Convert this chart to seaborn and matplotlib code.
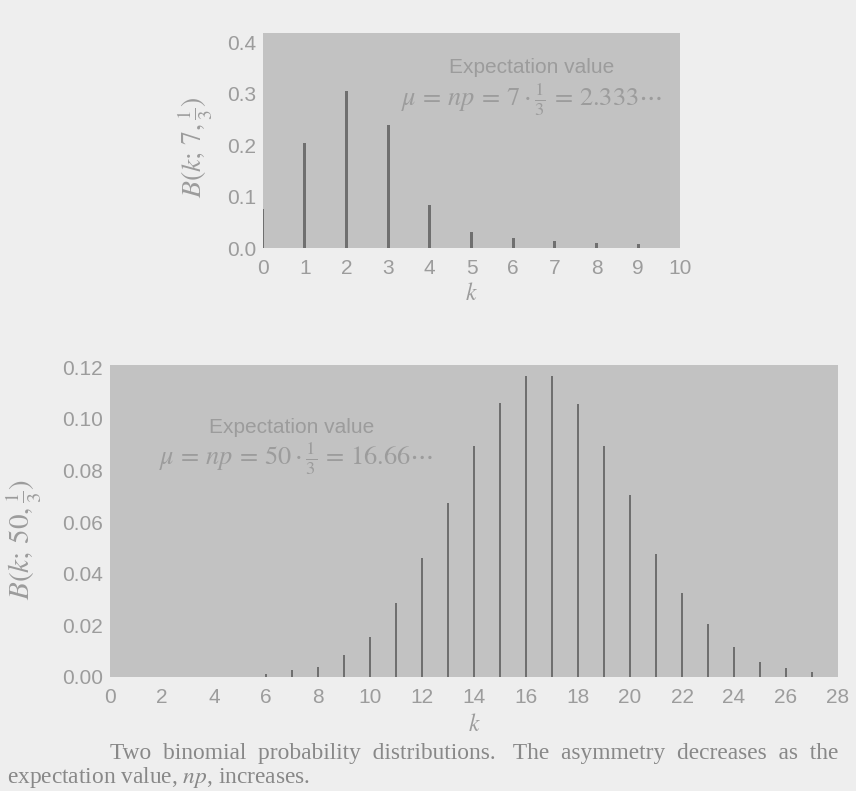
import matplotlib
matplotlib.use("Agg")
import matplotlib.pyplot as plt
import seaborn as sns
import pandas as pd

# B(k; 7, 1/3)
k_small = [0, 1, 2, 3, 4, 5, 6, 7, 8, 9]
p_small = [0.076, 0.204, 0.306, 0.239, 0.083, 0.032, 0.020, 0.013, 0.010, 0.007]

# B(k; 50, 1/3)
k_large = [6, 7, 8, 9, 10, 11, 12, 13, 14, 15, 16, 17, 18, 19, 20, 21, 22, 23, 24, 25, 26, 27]
p_large = [0.0013, 0.0026, 0.0040, 0.0084, 0.0156, 0.0286, 0.0461, 0.0675, 0.0896, 0.1061,
           0.1165, 0.1165, 0.1056, 0.0896, 0.0705, 0.0477, 0.0325, 0.0205, 0.0117, 0.0058,
           0.0035, 0.0020]

xticks_small = list(range(0, 11))
yticks_small = [0.0, 0.1, 0.2, 0.3, 0.4]
xticks_large = list(range(0, 29, 2))
yticks_large = [0.00, 0.02, 0.04, 0.06, 0.08, 0.10, 0.12]

sns.set_theme(style="white")
plt.rcParams["font.family"] = ["Liberation Sans", "DejaVu Sans"]
plt.rcParams["mathtext.fontset"] = "stix"

fig_bg = "#eeeeee"
ax_bg = "#c2c2c2"
txt = "#9c9c9c"
stem = "#6f6f6f"

W, H = 856, 791
fig = plt.figure(figsize=(W / 100, H / 100), dpi=100, facecolor=fig_bg)

ax1 = fig.add_axes([263 / W, 1 - 248 / H, 417 / W, 215 / H])
ax2 = fig.add_axes([110 / W, 1 - 677 / H, 728 / W, 312 / H])

df_small = pd.DataFrame({"k": k_small, "p": p_small})
df_large = pd.DataFrame({"k": k_large, "p": p_large})

sns.barplot(data=df_small, x="k", y="p", native_scale=True, width=0.07,
            color=stem, saturation=1, linewidth=0, errorbar=None, ax=ax1)
sns.barplot(data=df_large, x="k", y="p", native_scale=True, width=0.11,
            color=stem, saturation=1, linewidth=0, errorbar=None, ax=ax2)

for ax in (ax1, ax2):
    ax.set_facecolor(ax_bg)
    for s in ax.spines.values():
        s.set_visible(False)
    ax.tick_params(length=0, labelsize=15, labelcolor=txt)
    ax.tick_params(axis="x", pad=8)
    ax.tick_params(axis="y", pad=5)

ax1.set_xlim(0, 10)
ax1.set_ylim(0, 0.418)
ax1.set_xticks(xticks_small)
ax1.set_xticklabels([str(t) for t in xticks_small])
ax1.set_yticks(yticks_small)
ax1.set_yticklabels([f"{t:.1f}" for t in yticks_small])

ax2.set_xlim(0, 28)
ax2.set_ylim(0, 0.1208)
ax2.set_xticks(xticks_large)
ax2.set_xticklabels([str(t) for t in xticks_large])
ax2.set_yticks(yticks_large)
ax2.set_yticklabels([f"{t:.2f}" for t in yticks_large])

ax1.set_xlabel(r"$k$", fontsize=17, color=txt)
ax1.xaxis.set_label_coords(0.5, -0.165)
ax1.set_ylabel(r"$B(k;\,7,\frac{1}{3})$", fontsize=20, color=txt)
ax1.yaxis.set_label_coords(-0.115, 0.47)

ax2.set_xlabel(r"$k$", fontsize=17, color=txt)
ax2.xaxis.set_label_coords(0.5, -0.12)
ax2.set_ylabel(r"$B(k;\,50,\frac{1}{3})$", fontsize=21, color=txt)
ax2.yaxis.set_label_coords(-0.09, 0.44)

ax1.text(0.645, 0.84, "Expectation value", transform=ax1.transAxes,
         ha="center", va="center", fontsize=15, color=txt)
ax1.text(0.645, 0.69, r"$\mu\,=\,np\,=\,7\cdot\frac{1}{3}\,=\,2.333\cdots$",
         transform=ax1.transAxes, ha="center", va="center", fontsize=19, color=txt)

ax2.text(0.25, 0.80, "Expectation value", transform=ax2.transAxes,
         ha="center", va="center", fontsize=15, color=txt)
ax2.text(0.256, 0.70, r"$\mu\,=\,np\,=\,50\cdot\frac{1}{3}\,=\,16.66\cdots$",
         transform=ax2.transAxes, ha="center", va="center", fontsize=19, color=txt)

fig.text(110 / W, 1 - 753 / H,
         "Two  binomial  probability  distributions.   The  asymmetry  decreases  as  the",
         ha="left", va="center", fontsize=16.8, color="#888888", family="Liberation Serif")
fig.text(7 / W, 1 - 778 / H, r"expectation value, $np$, increases.",
         ha="left", va="center", fontsize=16.8, color="#888888", family="Liberation Serif")

fig.savefig("out.png", dpi=100, facecolor=fig_bg)
